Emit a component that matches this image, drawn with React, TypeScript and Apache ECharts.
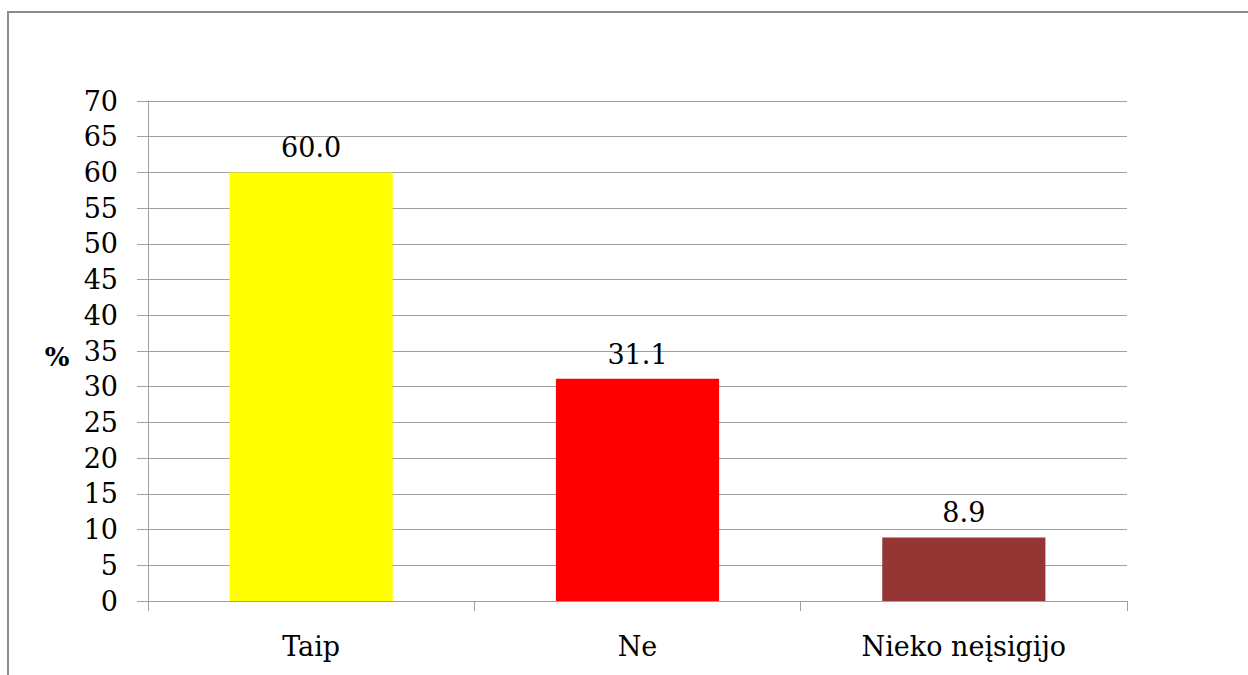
import React, { useEffect, useRef } from "react";
import * as echarts from "echarts";

const categories = ["Taip", "Ne", "Nieko neįsigijo"];
const values = [60.0, 31.1, 8.9];
const barColors = ["#FFFF00", "#FF0000", "#963634"];
const yTicks = { min: 0, max: 70, interval: 5 };

const FONT = "DejaVu Serif";
const LABEL_SIZE = 27;

export default function App() {
  const ref = useRef<HTMLDivElement>(null);

  useEffect(() => {
    if (!ref.current) return;
    const chart = echarts.init(ref.current, undefined, { renderer: "svg" });
    chart.setOption({
      animation: false,
      backgroundColor: "#ffffff",
      textStyle: { fontFamily: FONT },
      grid: { left: 148, right: 121, top: 101, bottom: 74, containLabel: false },
      graphic: [
        {
          type: "rect",
          shape: { x: 8, y: 12, width: 1300, height: 700 },
          style: { fill: "none", stroke: "#8c8c8c", lineWidth: 2 },
          silent: true,
        },
        {
          type: "text",
          x: 57,
          y: 357,
          style: {
            text: "%",
            fontFamily: FONT,
            fontSize: 26,
            fontWeight: "bold",
            fill: "#000",
            textAlign: "center",
            textVerticalAlign: "middle",
          },
        },
      ],
      xAxis: {
        type: "category",
        data: categories,
        axisLine: { lineStyle: { color: "#a0a0a0", width: 1 } },
        axisTick: { show: true, length: 10, lineStyle: { color: "#a0a0a0" } },
        axisLabel: {
          color: "#000",
          fontSize: LABEL_SIZE,
          fontFamily: FONT,
          margin: 32,
        },
      },
      yAxis: {
        type: "value",
        min: yTicks.min,
        max: yTicks.max,
        interval: yTicks.interval,
        axisLine: { show: true, lineStyle: { color: "#a0a0a0", width: 1 } },
        axisTick: { show: true, length: 11, lineStyle: { color: "#a0a0a0" } },
        splitLine: { show: true, lineStyle: { color: "#a0a0a0", width: 1 } },
        axisLabel: {
          color: "#000",
          fontSize: LABEL_SIZE,
          fontFamily: FONT,
          margin: 30,
        },
      },
      series: [
        {
          type: "bar",
          barWidth: "50%",
          data: values.map((v, i) => ({
            value: v,
            itemStyle: { color: barColors[i] },
          })),
          label: {
            show: true,
            position: "top",
            distance: 11,
            color: "#000",
            fontSize: LABEL_SIZE,
            fontFamily: FONT,
            formatter: (p: any) => Number(p.value).toFixed(1),
          },
        },
      ],
    });
    return () => chart.dispose();
  }, []);

  return (
    <div
      ref={ref}
      style={{ position: "fixed", left: 0, top: 0, width: 1248, height: 675 }}
    />
  );
}
